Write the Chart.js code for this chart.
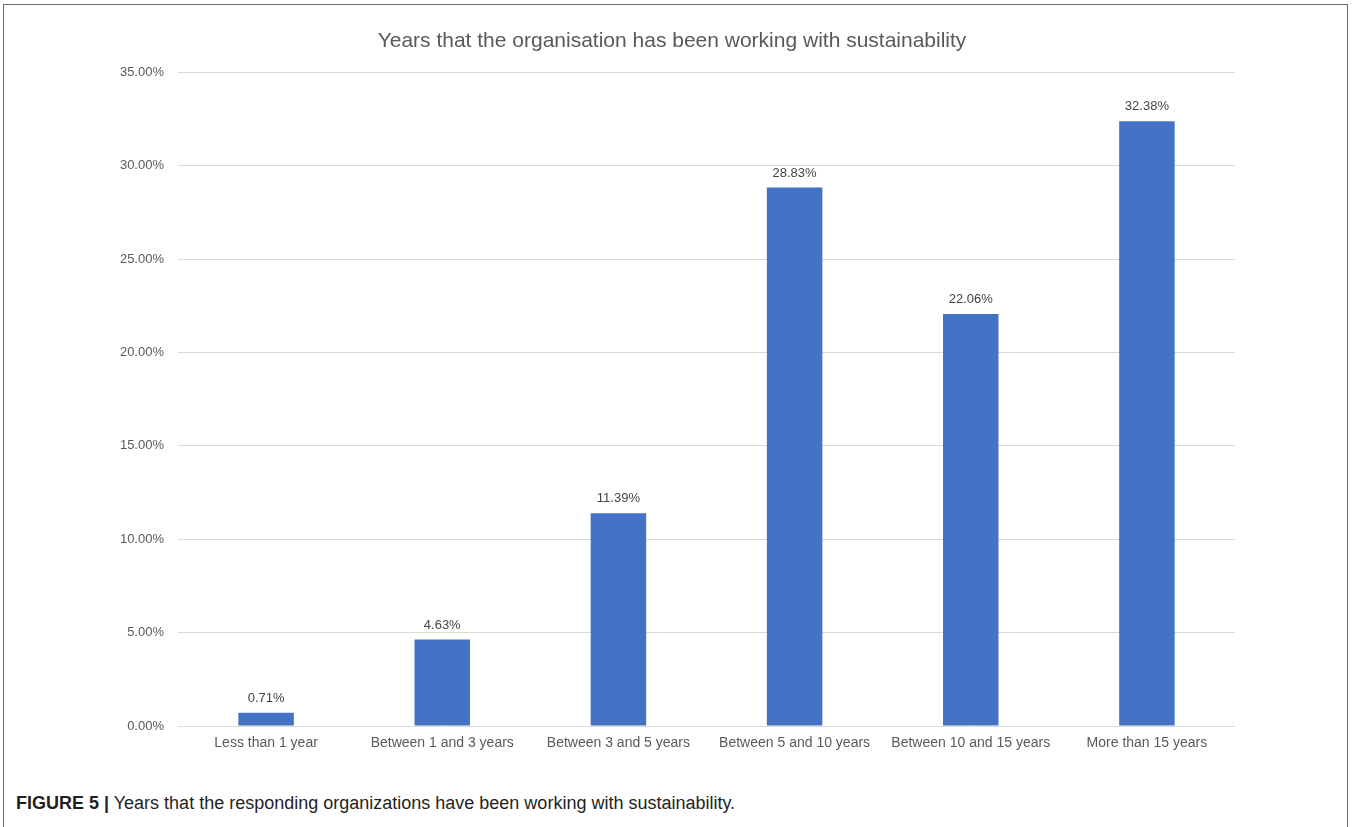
<!DOCTYPE html>
<html>
<head>
<meta charset="utf-8">
<script src="https://cdn.jsdelivr.net/npm/chart.js@4/dist/chart.umd.min.js"></script>
<style>
  body { margin: 0; background: #fff; width: 1352px; height: 827px; overflow: hidden; position: relative; }
  .frame { position: absolute; left: 3px; top: 4px; width: 1345px; height: 900px; border: 1.5px solid #6a6a6a; box-sizing: border-box; }
  .wrap { position: absolute; left: 0; top: 0; width: 1352px; height: 770px; }
  .caption { position: absolute; left: 16px; top: 793px; font-family: "Liberation Sans", Arial, sans-serif; font-size: 18px; color: #231f20; white-space: nowrap; }
  .caption b { font-weight: bold; }
</style>
</head>
<body>
<div class="frame"></div>
<div class="wrap"><canvas id="yearsChart"></canvas></div>
<div class="caption"><b>FIGURE 5 |</b> Years that the responding organizations have been working with sustainability.</div>
<script>
const categories = ['Less than 1 year', 'Between 1 and 3 years', 'Between 3 and 5 years', 'Between 5 and 10 years', 'Between 10 and 15 years', 'More than 15 years'];
const shares = [0.71, 4.63, 11.39, 28.83, 22.06, 32.38];
const yTicks = [0, 5, 10, 15, 20, 25, 30, 35];

const FONT = '"Liberation Sans", Arial, sans-serif';

// value labels above the bars
const barLabels = {
  id: 'barLabels',
  afterDatasetsDraw(chart) {
    const ctx = chart.ctx;
    const meta = chart.getDatasetMeta(0);
    ctx.save();
    ctx.font = '13px ' + FONT;
    ctx.fillStyle = '#444';
    ctx.textAlign = 'center';
    ctx.textBaseline = 'bottom';
    meta.data.forEach((bar, i) => {
      ctx.fillText(shares[i].toFixed(2) + '%', bar.x, bar.y - 8);
    });
    ctx.restore();
  }
};

new Chart(document.getElementById('yearsChart'), {
  type: 'bar',
  data: {
    labels: categories,
    datasets: [{
      data: shares,
      backgroundColor: '#4472c4',
      categoryPercentage: 1,
      barPercentage: 0.315
    }]
  },
  options: {
    responsive: true,
    maintainAspectRatio: false,
    animation: false,
    layout: { padding: { top: 20, left: 109, right: 117, bottom: 14 } },
    plugins: {
      legend: { display: false },
      tooltip: { enabled: false },
      title: {
        display: true,
        text: 'Years that the organisation has been working with sustainability',
        color: '#595959',
        font: { family: FONT, size: 21, weight: 'normal' },
        padding: { top: 9, bottom: 18 }
      }
    },
    scales: {
      x: {
        grid: { display: false, drawTicks: false },
        border: { display: false },
        ticks: { color: '#595959', font: { family: FONT, size: 14 }, padding: 9, maxRotation: 0, autoSkip: false },
        afterFit(scale) { scale.height = 30; }
      },
      y: {
        min: 0,
        max: 35,
        afterBuildTicks(scale) { scale.ticks = yTicks.map(v => ({ value: v })); },
        grid: { color: '#d9d9d9', drawTicks: false },
        border: { display: false },
        ticks: {
          color: '#595959',
          font: { family: FONT, size: 13 },
          padding: 14,
          callback: v => v.toFixed(2) + '%'
        },
        afterFit(scale) { scale.width = 69; }
      }
    }
  },
  plugins: [barLabels]
});
</script>
</body>
</html>
